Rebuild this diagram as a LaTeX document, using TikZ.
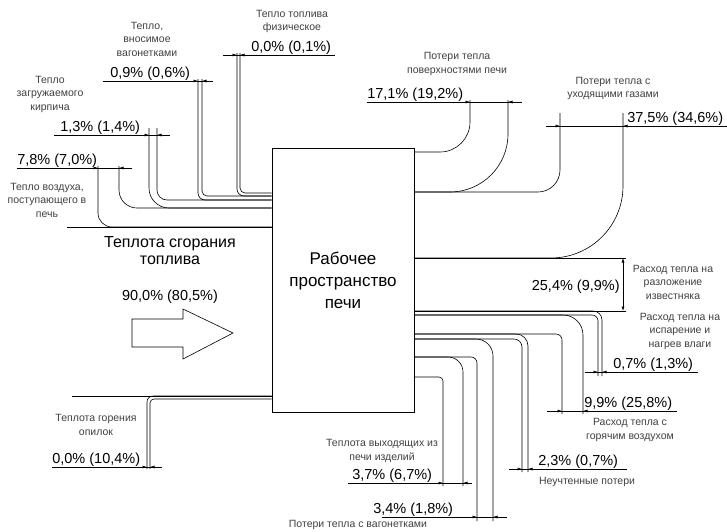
\documentclass[tikz,border=0pt]{standalone}
\usepackage{fontspec}
\setmainfont{Liberation Sans}
\usetikzlibrary{arrows.meta}

\begin{document}
\begin{tikzpicture}[x=1pt, y=-1pt, line width=0.6pt,
    note/.style = {font=\fontsize{10.5}{13.5}\selectfont, text=black!75, align=center, inner sep=0pt},
    pct/.style = {font=\fontsize{14.5}{16}\selectfont, inner sep=0pt},
    big/.style = {font=\fontsize{17}{22}\selectfont, align=center},
    dimarr/.style = {-{Latex[length=4.5pt, width=3pt]}}]
  \useasboundingbox (0,0) rectangle (727,531);

  \node[draw, minimum width=142pt, minimum height=264pt, big] (box) at (343,280) {Рабочее\\пространство\\печи};

  % incoming flows
  \foreach \x/\y/\r/\t in {240/193/5/53, 237/196/7/53, 202/196/5/79, 198/200/7/79,
                           157/200/10/128, 149/208/20/128, 119/208/18/166, 98/227/14/166}
    \draw[rounded corners=\r] (\x,\t) |- (box.west |- 0,\y);
  \draw (67,227) -- (box.west |- 0,227);
  \draw (72,396) -- (box.west |- 0,396);
  \draw[rounded corners=6] (147,469) |- (box.west |- 0,396);
  \draw[rounded corners=4] (150,469) |- (box.west |- 0,399);

  % outgoing flows
  \foreach \y/\x/\r/\e in {152/470/30/100, 192/508/58/100, 192/560/22/113, 258/623/72/113,
                           311/602/9/376, 315/598/6/376, 315/583/20/414, 334/562/6/414,
                           334/528/12/472, 339/522/8/472, 339/493/17/521, 357/477/6/521,
                           357/463/15/486, 377/443/4/486}
    \draw[rounded corners=\r] (box.east |- 0,\y) -| (\x,\e);
  \draw (box.east |- 0,258) -- (626,258);
  \draw (box.east |- 0,311) -- (626,311);
  \draw[{Latex[length=4.5pt, width=3pt]}-{Latex[length=4.5pt, width=3pt]}] (623,258) -- (623,311);

  % dimension lines
  \foreach \y/\a/\b/\p/\q in {55/223/335/237/240, 81/103/213/198/202, 135/54/170/149/157,
                              168/17/132/98/119, 467/52/162/147/150, 102/367/522/470/508,
                              126/546/727/560/623, 372/585/698/598/602, 411/547/677/562/583,
                              469/509/627/522/528, 483/348/472/443/463, 517/382/507/477/493}
  {
    \draw (\a,\y) -- (\b,\y);
    \draw[dimarr] (\a,\y) -- (\p,\y);
    \draw[dimarr] (\b,\y) -- (\q,\y);
  }

  % fuel arrow
  \draw (132,319) -- (183,319) -- (183,309) -- (233,333) -- (183,359) -- (183,347) -- (132,347) -- cycle;
  \node[font=\fontsize{16}{17}\selectfont, align=center] (fuel) at (170,251) {Теплота сгорания\\топлива};
  \node[pct] (pfuel) at (170,297) {90,0\% (80,5\%)};

  % texts
  \node[note] (n1) at (292,21.5) {Тепло топлива\\физическое};
  \node[note] (n2) at (147,39) {Тепло,\\вносимое\\вагонетками};
  \node[note] (n3) at (50,94) {Тепло\\загружаемого\\кирпича};
  \node[note] (n4) at (47,200) {Тепло воздуха,\\поступающего в\\печь};
  \node[note] (n5) at (96,425) {Теплота горения\\опилок};
  \node[note] (n6) at (457,64) {Потери тепла\\поверхностями печи};
  \node[note] (n7) at (613,88.5) {Потери тепла с\\уходящими газами};
  \node[note] (n8) at (673,282) {Расход тепла на\\разложение\\известняка};
  \node[note] (n9) at (680,331) {Расход тепла на\\испарение и\\нагрев влаги};
  \node[note] (n10) at (630,430) {Расход тепла с\\горячим воздухом};
  \node[note] (n11) at (587,482) {Неучтенные потери};
  \node[note] (n12) at (382,451) {Теплота выходящих из\\печи изделий};
  \node[note] (n13) at (358,525) {Потери тепла с вагонетками};

  \node[pct, anchor=base west] (p1) at (251,51) {0,0\% (0,1\%)};
  \node[pct, anchor=base west] (p2) at (110,77) {0,9\% (0,6\%)};
  \node[pct, anchor=base west] (p3) at (60,131) {1,3\% (1,4\%)};
  \node[pct, anchor=base west] (p4) at (17,164) {7,8\% (7,0\%)};
  \node[pct, anchor=base west] (p5) at (52,463) {0,0\% (10,4\%)};
  \node[pct, anchor=base west] (p6) at (367,98) {17,1\% (19,2\%)};
  \node[pct, anchor=base west] (p7) at (627,122) {37,5\% (34,6\%)};
  \node[pct, anchor=base east] (p8) at (620,290) {25,4\% (9,9\%)};
  \node[pct, anchor=base west] (p9) at (613,368) {0,7\% (1,3\%)};
  \node[pct, anchor=base west] (p10) at (584,407) {9,9\% (25,8\%)};
  \node[pct, anchor=base west] (p11) at (538,465) {2,3\% (0,7\%)};
  \node[pct, anchor=base west] (p12) at (352,479) {3,7\% (6,7\%)};
  \node[pct, anchor=base west] (p13) at (373,513) {3,4\% (1,8\%)};
\end{tikzpicture}
\end{document}
